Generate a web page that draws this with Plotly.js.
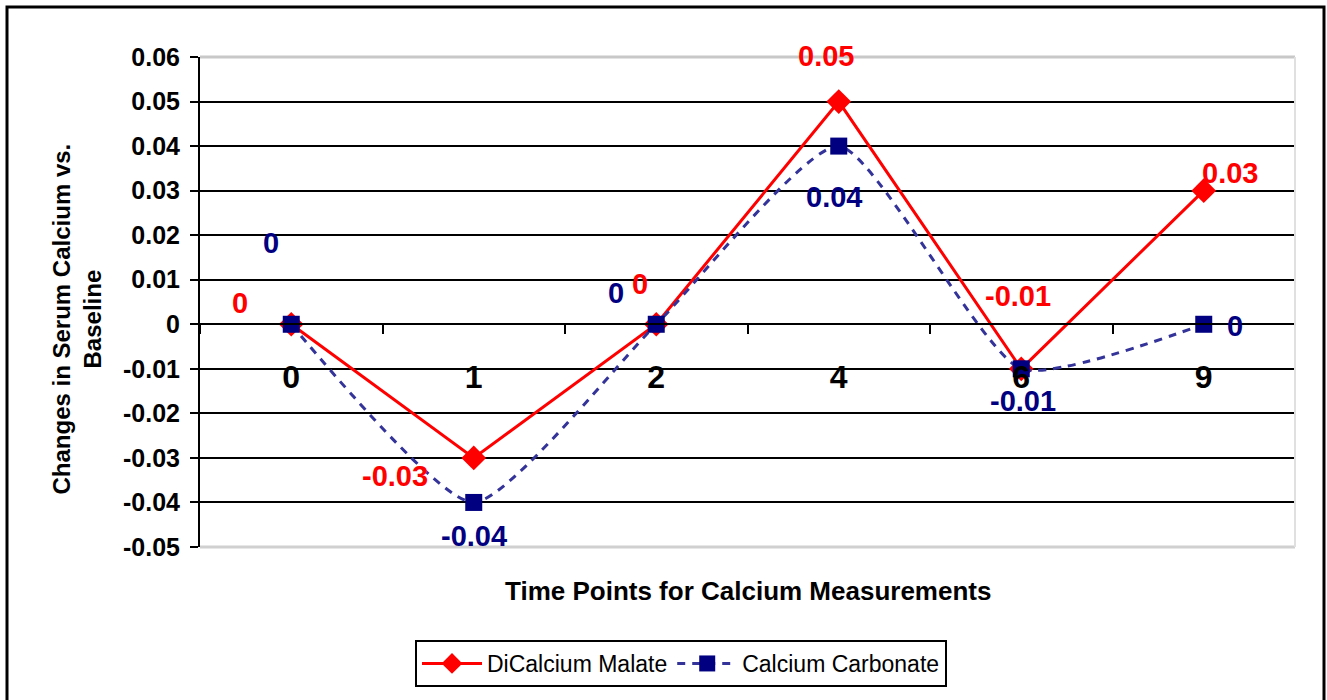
<!DOCTYPE html>
<html>
<head>
<meta charset="utf-8">
<script src="https://cdn.plot.ly/plotly-3.0.1.min.js"></script>
<style>html,body{margin:0;padding:0;background:#fff;}#chart{width:1327px;height:700px;}</style>
</head>
<body>
<div id="chart"></div>
<script>
// ---- data ----
const categories = ["0", "1", "2", "4", "6", "9"];
const malate = [0, -0.03, 0, 0.05, -0.01, 0.03];
const carbonate = [0, -0.04, 0, 0.04, -0.01, 0];
const yTickVals = [0.06, 0.05, 0.04, 0.03, 0.02, 0.01, 0, -0.01, -0.02, -0.03, -0.04, -0.05];
const yTickText = ["0.06", "0.05", "0.04", "0.03", "0.02", "0.01", "0", "-0.01", "-0.02", "-0.03", "-0.04", "-0.05"];
const seriesNames = ["DiCalcium Malate", "Calcium Carbonate"];

// ---- styling (label offsets in px) ----
const malateOffsets = [[-51, 21], [-79, -18], [-16, 40], [-13, 46], [-3, 73], [26, 18]];
const carbonateOffsets = [[-20, 81], [0, -34], [-40, 31], [-5, -51], [2, -32], [31, -2]];

const FONT = "Liberation Sans, Arial, sans-serif";
const RED = "#FF0000", NAVY = "#000080", BLUE_LINE = "#333399";
const yMin = -0.05, yMax = 0.06;

const traces = [
  {
    x: categories, y: malate, name: seriesNames[0], type: "scatter", mode: "lines+markers",
    line: {color: RED, width: 3},
    marker: {symbol: "diamond", size: 19, color: RED}
  },
  {
    x: categories, y: carbonate, name: seriesNames[1], type: "scatter", mode: "lines+markers",
    line: {color: BLUE_LINE, width: 3, dash: "8px,7px", shape: "spline", smoothing: 0.55},
    marker: {symbol: "square", size: 17, color: NAVY}
  }
];

const annotations = [];
function addLabels(vals, offs, color) {
  vals.forEach((v, i) => {
    annotations.push({
      x: i, y: v, xref: "x", yref: "y", text: String(v), showarrow: false,
      xshift: offs[i][0], yshift: offs[i][1],
      font: {family: FONT, size: 29, color: color, weight: "bold"}
    });
  });
}
addLabels(malate, malateOffsets, RED);
addLabels(carbonate, carbonateOffsets, NAVY);

annotations.push({
  xref: "paper", yref: "paper", x: -0.112, y: 0.465, xanchor: "center", yanchor: "middle",
  textangle: -90, showarrow: false,
  text: "<b>Changes in Serum Calcium vs.</b><br><b>Baseline</b>",
  font: {family: FONT, size: 24, color: "#000"}
});
annotations.push({
  xref: "paper", yref: "paper", x: 0.5, y: -0.09, xanchor: "center", yanchor: "middle",
  showarrow: false,
  text: "<b>Time Points for Calcium Measurements</b>",
  font: {family: FONT, size: 26, color: "#000"}
});

const L = 200, R = 1295, T = 57, B = 547;
const W = R - L, H = B - T;
const px = x => (x - L) / W;
const py = y => (B - y) / H;

const shapes = [
  {type: "line", xref: "paper", yref: "paper", x0: 0, x1: 1, y0: 1, y1: 1, line: {color: "#c8c8c8", width: 3}, layer: "above"},
  {type: "line", xref: "paper", yref: "paper", x0: 0, x1: 1, y0: 0, y1: 0, line: {color: "#d0d0d0", width: 3}, layer: "above"},
  {type: "line", xref: "paper", yref: "paper", x0: 1, x1: 1, y0: 0, y1: 1, line: {color: "#e0e0e0", width: 2}, layer: "above"},
  {type: "rect", xref: "paper", yref: "paper", x0: px(7), x1: px(1324), y0: py(706), y1: py(7), line: {color: "#000", width: 3}, layer: "above"}
];

const layout = {
  width: 1327, height: 700,
  margin: {l: L, r: 1327 - R, t: T, b: 700 - B},
  paper_bgcolor: "#fff", plot_bgcolor: "#fff",
  font: {family: FONT, color: "#000"},
  showlegend: true,
  legend: {
    orientation: "h", x: px(681), y: py(640), xanchor: "center", yanchor: "top",
    bordercolor: "#000", borderwidth: 2, bgcolor: "#fff",
    font: {family: FONT, size: 23, color: "#000"},
    itemwidth: 60, tracegroupgap: 0
  },
  xaxis: {
    type: "category", anchor: "free", position: (0 - yMin) / (yMax - yMin),
    range: [-0.5, categories.length - 0.5],
    showline: true, linecolor: "#000", linewidth: 2,
    ticks: "outside", tickson: "boundaries", ticklen: 9, tickwidth: 2, tickcolor: "#000",
    ticklabelstandoff: 24,
    tickfont: {family: FONT, size: 32, color: "#000", weight: "bold"},
    showgrid: false, zeroline: false, fixedrange: true
  },
  yaxis: {
    range: [yMin, yMax], tickvals: yTickVals, ticktext: yTickText,
    showline: true, linecolor: "#000", linewidth: 2,
    ticks: "outside", ticklen: 8, tickwidth: 2, tickcolor: "#000",
    ticklabelstandoff: 5,
    tickfont: {family: FONT, size: 25, color: "#000", weight: "bold"},
    showgrid: true, gridcolor: "#000", gridwidth: 2,
    zeroline: false, fixedrange: true
  },
  annotations: annotations,
  shapes: shapes
};

Plotly.newPlot("chart", traces, layout, {displayModeBar: false, staticPlot: true});
</script>
</body>
</html>
